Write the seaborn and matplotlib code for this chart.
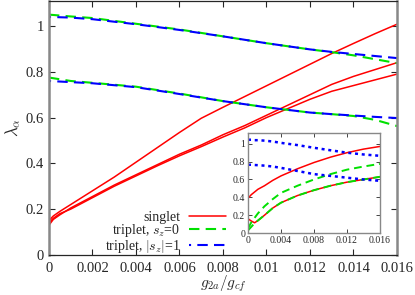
import numpy as np
import pandas as pd
import matplotlib
matplotlib.use('Agg')
import matplotlib.pyplot as plt
import seaborn as sns
from matplotlib.ticker import FormatStrFormatter, MultipleLocator

## 主图数据
x_main = [0, 0.0002, 0.0005, 0.001, 0.002, 0.003, 0.004, 0.005, 0.006, 0.007,
          0.008, 0.009, 0.010, 0.011, 0.012, 0.013, 0.014, 0.015, 0.016]
singlet_a = [0.15, 0.17, 0.19, 0.22, 0.28, 0.34, 0.405, 0.47, 0.535, 0.597,
             0.645, 0.692, 0.739, 0.786, 0.833, 0.880, 0.924, 0.967, 1.008]
singlet_b = [0.13, 0.155, 0.175, 0.205, 0.255, 0.305, 0.35, 0.395, 0.44, 0.48,
             0.525, 0.565, 0.61, 0.655, 0.70, 0.745, 0.78, 0.81, 0.84]
singlet_c = [0.14, 0.16, 0.18, 0.20, 0.25, 0.30, 0.345, 0.39, 0.433, 0.473,
             0.515, 0.555, 0.60, 0.64, 0.68, 0.715, 0.74, 0.765, 0.79]

x_trip = [0, 0.001, 0.002, 0.004, 0.006, 0.008, 0.010, 0.012, 0.013, 0.014, 0.015, 0.016]
sz0_up = [1.05, 1.042, 1.035, 1.01, 0.985, 0.955, 0.925, 0.898, 0.886, 0.872, 0.855, 0.838]
sz1_up = [1.04, 1.037, 1.03, 1.008, 0.983, 0.955, 0.925, 0.898, 0.887, 0.878, 0.869, 0.86]
sz0_lo = [0.775, 0.76, 0.752, 0.735, 0.705, 0.672, 0.645, 0.622, 0.615, 0.607, 0.59, 0.563]
sz1_lo = [0.76, 0.755, 0.75, 0.733, 0.703, 0.672, 0.645, 0.622, 0.615, 0.609, 0.603, 0.598]

## 插图数据
x_ins = [0, 0.0004, 0.0008, 0.0012, 0.002, 0.003, 0.004, 0.006, 0.008, 0.010, 0.012, 0.014, 0.016]
ins_red_up = [0.39, 0.43, 0.46, 0.49, 0.53, 0.59, 0.64, 0.72, 0.79, 0.85, 0.90, 0.94, 0.97]
ins_red_lo = [0.16, 0.135, 0.115, 0.14, 0.20, 0.28, 0.34, 0.42, 0.48, 0.53, 0.57, 0.60, 0.63]
ins_green_lo = [0.03, 0.07, 0.11, 0.14, 0.20, 0.28, 0.34, 0.42, 0.48, 0.53, 0.57, 0.60, 0.63]
ins_green_up = [0.05, 0.12, 0.17, 0.22, 0.30, 0.38, 0.45, 0.53, 0.60, 0.66, 0.71, 0.745, 0.775]
ins_blue_up = [1.045, 1.045, 1.04, 1.04, 1.035, 1.025, 1.01, 0.985, 0.955, 0.927, 0.90, 0.88, 0.865]
ins_blue_lo = [0.765, 0.765, 0.762, 0.76, 0.755, 0.745, 0.73, 0.695, 0.66, 0.64, 0.62, 0.60, 0.585]

sns.set_style('ticks')
plt.rcParams['font.family'] = ['Liberation Serif', 'DejaVu Serif']
plt.rcParams['mathtext.fontset'] = 'cm'
plt.rcParams['xtick.direction'] = 'in'
plt.rcParams['ytick.direction'] = 'in'

red = '#ff0000'
green = '#00e000'
blue = '#0000ff'
gray = '#888888'

fig = plt.figure(figsize=(4.15, 2.95), dpi=100)
ax = fig.add_axes([0.118, 0.136, 0.8386, 0.861])

for ys, lab in [(singlet_a, 'singlet'), (singlet_b, None), (singlet_c, None)]:
    sns.lineplot(x=x_main, y=ys, ax=ax, color=red, lw=1.1, label=lab, sort=False, estimator=None)
for ys, lab in [(sz0_up, 'triplet, $s_z$=0'), (sz0_lo, None)]:
    sns.lineplot(x=x_trip, y=ys, ax=ax, color=green, lw=1.5, linestyle=(0, (5, 3)),
                 label=lab, sort=False, estimator=None)
for ys, lab in [(sz1_up, 'triplet, $|s_z|$=1'), (sz1_lo, None)]:
    sns.lineplot(x=x_trip, y=ys, ax=ax, color=blue, lw=1.5, linestyle=(4, (5, 3)),
                 label=lab, sort=False, estimator=None)

ax.set_xlim(0, 0.016)
ax.set_ylim(0, 1.11)
ax.xaxis.set_major_locator(MultipleLocator(0.002))
ax.yaxis.set_major_locator(MultipleLocator(0.2))
ax.xaxis.set_major_formatter(FormatStrFormatter('%g'))
ax.yaxis.set_major_formatter(FormatStrFormatter('%g'))
ax.tick_params(labelsize=10.5, top=True, right=True, length=4, width=0.8)
ax.tick_params(axis='x', pad=5)
for s in ['left', 'right']:
    ax.spines[s].set_color(gray)
    ax.spines[s].set_linewidth(1.8)
for s in ['top', 'bottom']:
    ax.spines[s].set_linewidth(0.9)
ax.set_xlabel('$g_{2a}/g_{cf}$', fontsize=11, labelpad=-1)
ax.set_ylabel(r'$\lambda_\alpha$', fontsize=12, labelpad=2)

leg = ax.legend(loc='center right', bbox_to_anchor=(0.51, 0.087), frameon=False,
                markerfirst=False, fontsize=10, handlelength=2.7, handletextpad=0.6,
                labelspacing=-0.1, borderpad=0, borderaxespad=0)

# 插图
axi = fig.add_axes([0.5976, 0.210, 0.318, 0.339])
sns.lineplot(x=x_ins, y=ins_red_up, ax=axi, color=red, lw=1.1, sort=False, estimator=None)
sns.lineplot(x=x_ins, y=ins_red_lo, ax=axi, color=red, lw=1.1, sort=False, estimator=None)
sns.lineplot(x=x_ins, y=ins_green_up, ax=axi, color=green, lw=1.4, linestyle=(0, (4, 2.5)),
             sort=False, estimator=None)
sns.lineplot(x=x_ins, y=ins_green_lo, ax=axi, color=green, lw=1.4, linestyle=(0, (4, 2.5)),
             sort=False, estimator=None)
sns.lineplot(x=x_ins, y=ins_blue_up, ax=axi, color=blue, lw=1.8, linestyle=(0, (1.2, 1.5)),
             sort=False, estimator=None)
sns.lineplot(x=x_ins, y=ins_blue_lo, ax=axi, color=blue, lw=1.8, linestyle=(0, (1.2, 1.5)),
             sort=False, estimator=None)
axi.set_xlim(0, 0.016)
axi.set_ylim(0, 1.12)
axi.xaxis.set_major_locator(MultipleLocator(0.004))
axi.yaxis.set_major_locator(MultipleLocator(0.2))
axi.xaxis.set_major_formatter(FormatStrFormatter('%g'))
axi.yaxis.set_major_formatter(FormatStrFormatter('%g'))
axi.tick_params(labelsize=7, top=True, right=True, length=3, width=0.6, pad=2)
for s in axi.spines.values():
    s.set_color(gray)
    s.set_linewidth(1.0)
axi.set_facecolor('white')

fig.savefig('out.png', dpi=100)
